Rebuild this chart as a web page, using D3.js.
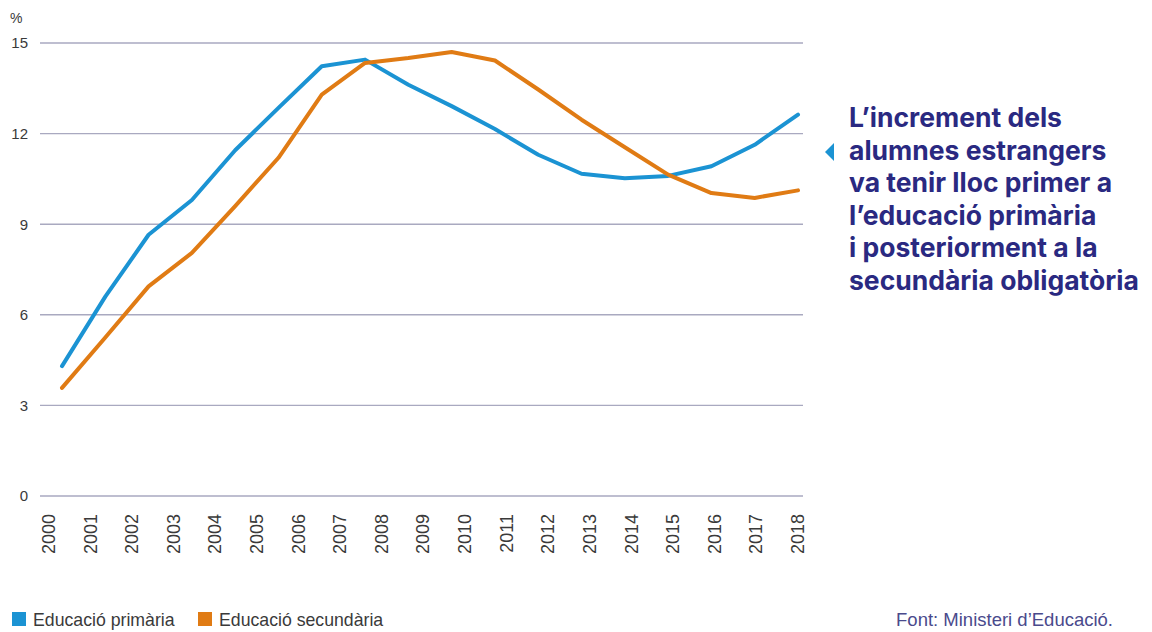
<!DOCTYPE html>
<html>
<head>
<meta charset="utf-8">
<script src="https://cdn.jsdelivr.net/npm/d3@7"></script>
<style>
  html, body { margin: 0; padding: 0; background: #fff; }
  svg { display: block; font-family: "Liberation Sans", Roboto, sans-serif; }
</style>
</head>
<body>
<svg id="chart" width="1152" height="632"></svg>
<script>
// ---- data ----
const yearLabels = ["2000","2001","2002","2003","2004","2005","2006","2007","2008","2009",
                    "2010","2011","2012","2013","2014","2015","2016","2017","2018"];
// school-year observations (18 points, drawn against their own point scale)
const periods = ["2000-01","2001-02","2002-03","2003-04","2004-05","2005-06","2006-07","2007-08","2008-09",
                 "2009-10","2010-11","2011-12","2012-13","2013-14","2014-15","2015-16","2016-17","2017-18"];
const primaria   = [4.3, 6.6, 8.65, 9.8, 11.45, 12.85, 14.23, 14.45, 13.62, 12.91, 12.15, 11.3, 10.67, 10.52, 10.6, 10.92, 11.63, 12.63];
const secundaria = [3.58, 5.25, 6.94, 8.05, 9.6, 11.2, 13.29, 14.34, 14.5, 14.7, 14.42, 13.46, 12.46, 11.55, 10.64, 10.03, 9.87, 10.12];
const yTicks = [0, 3, 6, 9, 12, 15];
const seriesNames = ["Educació primària", "Educació secundària"];
const annotationLines = ["L’increment dels", "alumnes estrangers", "va tenir lloc primer a",
                         "l’educació primària", "i posteriorment a la", "secundària obligatòria"];
const sourceText = "Font: Ministeri d’Educació.";

// ---- style ----
const BLUE = "#1b93d3", ORANGE = "#e07b14", GRID = "#a9a9c0", NAVY = "#2a2981";

const svg = d3.select("#chart");

const y = d3.scaleLinear().domain([0, 15]).range([496, 43]);
const xLabel = d3.scalePoint().domain(yearLabels).range([48, 797]);
const xData = d3.scalePoint().domain(periods).range([62, 798]);

// grid lines
svg.append("g").selectAll("line").data(yTicks).join("line")
  .attr("x1", 40).attr("x2", 803)
  .attr("y1", d => y(d)).attr("y2", d => y(d))
  .attr("stroke", GRID).attr("stroke-width", 1.4);

// y tick labels
svg.append("g").selectAll("text").data(yTicks).join("text")
  .attr("x", 28).attr("y", d => y(d)).attr("dy", "0.36em")
  .attr("text-anchor", "end")
  .attr("font-size", 15).attr("fill", "#3a3a3a")
  .text(d => d);

svg.append("text").attr("x", 10).attr("y", 23)
  .attr("font-size", 14).attr("fill", "#3a3a3a").text("%");

// x axis labels (rotated)
const xAxis = d3.axisBottom(xLabel).tickSize(0).tickPadding(0);
const gx = svg.append("g").attr("transform", "translate(0,514)").call(xAxis);
gx.select(".domain").remove();
gx.selectAll("text")
  .attr("transform", "rotate(-90)")
  .attr("text-anchor", "end")
  .attr("x", 0).attr("y", 0).attr("dy", "0.36em")
  .attr("font-size", 18).attr("fill", "#3a3a3a")
  .attr("font-family", "'Liberation Sans', Roboto, sans-serif");

// lines
const line = d3.line().x((d, i) => xData(periods[i])).y(d => y(d));
svg.append("path").datum(primaria)
  .attr("d", line).attr("fill", "none").attr("stroke", BLUE)
  .attr("stroke-width", 4).attr("stroke-linejoin", "round").attr("stroke-linecap", "round");
svg.append("path").datum(secundaria)
  .attr("d", line).attr("fill", "none").attr("stroke", ORANGE)
  .attr("stroke-width", 4).attr("stroke-linejoin", "round").attr("stroke-linecap", "round");

// annotation pointer
svg.append("path")
  .attr("d", "M825,152 L834,143 L834,161 Z")
  .attr("fill", BLUE);

// annotation text
svg.append("g").selectAll("text").data(annotationLines).join("text")
  .attr("x", 849).attr("y", (d, i) => 127 + i * 32.6)
  .attr("font-family", "Inter, Roboto, sans-serif")
  .attr("font-size", 26.5).attr("font-weight", 700).attr("fill", NAVY)
  .attr("letter-spacing", 0)
  .text(d => d);

// legend
const colors = [BLUE, ORANGE];
const legendX = [12, 198];
const lg = svg.append("g").selectAll("g").data(seriesNames).join("g")
  .attr("transform", (d, i) => `translate(${legendX[i]},612)`);
lg.append("rect").attr("width", 14).attr("height", 14).attr("fill", (d, i) => colors[i]);
lg.append("text").attr("x", 21).attr("y", 13.5)
  .attr("font-size", 17.7).attr("fill", "#3a3a3a").text(d => d);

// source
svg.append("text").attr("x", 1113).attr("y", 626)
  .attr("text-anchor", "end").attr("font-size", 18.5).attr("fill", "#4a4a8c")
  .text(sourceText);
</script>
</body>
</html>
